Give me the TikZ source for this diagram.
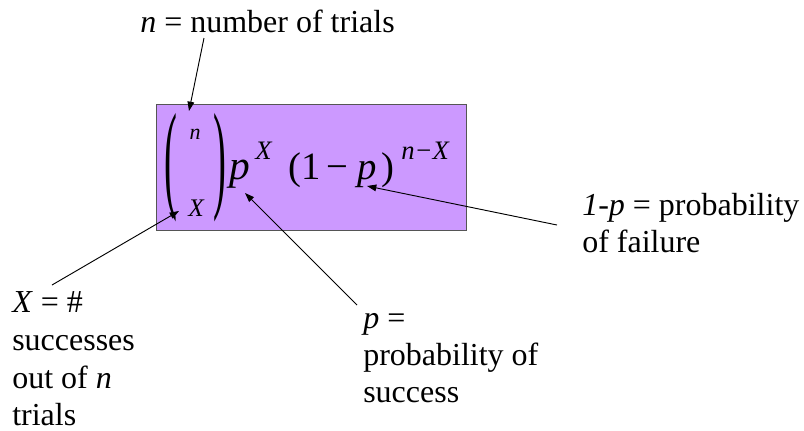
\documentclass[tikz,border=0pt]{standalone}
\usepackage{fontspec}
\setmainfont{Liberation Serif}
\usetikzlibrary{arrows.meta}
\definecolor{boxfill}{HTML}{CC99FF}
\definecolor{boxline}{HTML}{555555}
\tikzset{
  lbl/.style={inner sep=0pt, anchor=base west, font=\fontsize{24}{28}\selectfont},
  fml/.style={inner sep=0pt, anchor=base west, font=\fontsize{29}{34}\selectfont\itshape},
  supx/.style={inner sep=0pt, anchor=base west, font=\fontsize{20}{24}\selectfont\itshape},
  conn/.style={draw=black, line width=0.7pt, -{Triangle[length=7pt,width=5pt]}},
}
\begin{document}
\begin{tikzpicture}[x=0.75pt, y=-0.75pt]
\useasboundingbox (0,0) rectangle (804,430);
% box
\node[draw=boxline, fill=boxfill, line width=1pt, minimum width=310*0.75pt, minimum height=126*0.75pt, inner sep=0pt, anchor=north west] (box) at (156,104) {};
% formula
\node[inner sep=0pt, font=\fontsize{29}{34}\selectfont] (lp) at (171,168) {\scalebox{1}[3.1]{(}};
\node[inner sep=0pt, font=\fontsize{29}{34}\selectfont] (rp) at (220,168) {\scalebox{1}[3.1]{)}};
\node[inner sep=0pt, anchor=base, font=\fontsize{16.5}{20}\selectfont\itshape] (bn) at (195,139) {n};
\node[inner sep=0pt, anchor=base, font=\fontsize{19}{22}\selectfont\itshape] (bx) at (196,216) {X};
\node[fml, font=\fontsize{31}{36}\selectfont\itshape] (p1) at (229,179) {p};
\node[supx] (sx) at (255,159) {X};
\node[fml, font=\fontsize{29}{34}\selectfont] (om) at (288,179) {(1\,−};
\node[fml] (p2) at (357,179) {p};
\node[fml, font=\fontsize{29}{34}\selectfont] (rpar) at (381,179) {)};
\node[supx] (sn) at (401,159) {n−X};
% labels
\node[lbl] (ltop) at (140,32) {\textit{n} = number of trials};
\node[lbl] (lx1) at (12,312) {\textit{X} = \#};
\node[lbl] (lx2) at (12,350) {successes};
\node[lbl] (lx3) at (12,388) {out of \textit{n}};
\node[lbl] (lx4) at (12,425) {trials};
\node[lbl] (lp1) at (363,328) {\textit{p} =};
\node[lbl] (lp2) at (363,365) {probability of};
\node[lbl] (lp3) at (363,402) {success};
\node[lbl] (lf1) at (582,215) {\textit{1-p} = probability};
\node[lbl] (lf2) at (582,252) {of failure};
% connector endpoints
\coordinate (a1s) at (204,38);
\coordinate (a1t) at (189,111);
\coordinate (a2s) at (52,285);
\coordinate (a2t) at (179,211);
\coordinate (a3s) at (357,305);
\coordinate (a3t) at (245,193);
\coordinate (a4s) at (557,225);
\coordinate (a4t) at (367,186);
\draw[conn] (a1s) -- (a1t);
\draw[conn] (a2s) -- (a2t);
\draw[conn] (a3s) -- (a3t);
\draw[conn] (a4s) -- (a4t);
\end{tikzpicture}
\end{document}
